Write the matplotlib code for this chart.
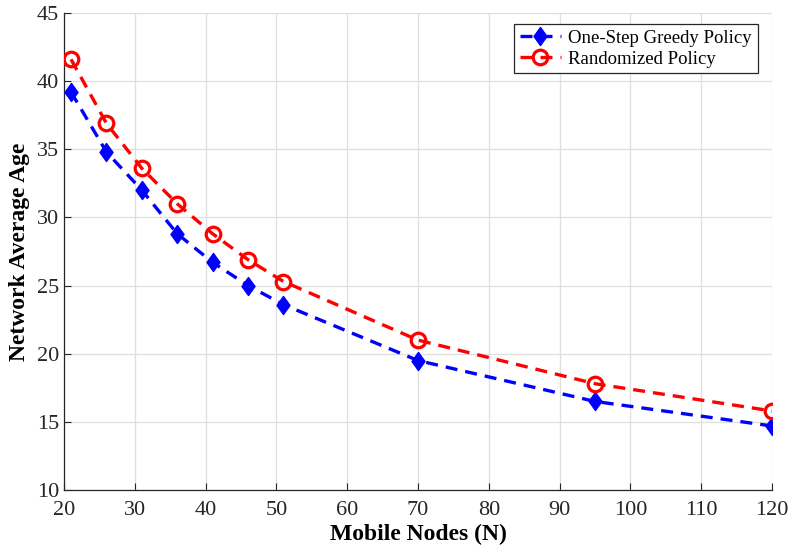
import numpy as np
import matplotlib.pyplot as plt
from matplotlib.path import Path

plt.rcParams['font.family'] = ['Liberation Serif', 'DejaVu Serif']
plt.rcParams['mathtext.fontset'] = 'stix'

# number of mobile nodes
nodes = [21, 26, 31, 36, 41, 46, 51, 70, 95, 120]

# average age per policy
greedy_age = [39.2, 34.8, 32.0, 28.8, 26.7, 25.0, 23.6, 19.5, 16.5, 14.7]
random_age = [41.6, 36.9, 33.6, 31.0, 28.8, 26.9, 25.3, 21.0, 17.8, 15.8]

xticks = np.arange(20, 121, 10)
yticks = np.arange(10, 46, 5)

# wider diamond, like the MATLAB 'd' marker
diamond = Path([(0, 1), (0.72, 0), (0, -1), (-0.72, 0), (0, 1)],
               [Path.MOVETO, Path.LINETO, Path.LINETO, Path.LINETO, Path.CLOSEPOLY])

fig = plt.figure(figsize=(7.88, 5.52), dpi=100)
ax = fig.add_axes([0.0812, 0.1123, 0.8985, 0.8641])

ax.plot(nodes, greedy_age, '--', color='blue', lw=2.4, marker=diamond,
        markersize=13, markerfacecolor='blue', markeredgecolor='blue',
        dashes=(3.6, 2.4), label='One-Step Greedy Policy', zorder=3)
ax.plot(nodes, random_age, '--', color='red', lw=2.4, marker='o',
        markersize=10.5, markerfacecolor='none', markeredgecolor='red',
        markeredgewidth=2.3, dashes=(3.6, 2.4), label='Randomized Policy', zorder=3)

ax.set_xlim(20, 120)
ax.set_ylim(10, 45)
ax.set_xticks(xticks)
ax.set_yticks(yticks)
ax.grid(True, color='#dfdfdf', lw=0.9)
ax.set_axisbelow(True)

for s in ['top', 'right']:
    ax.spines[s].set_visible(False)
for s in ['left', 'bottom']:
    ax.spines[s].set_color('#262626')
    ax.spines[s].set_linewidth(0.9)
ax.tick_params(direction='in', length=5, labelsize=16, colors='#262626',
               labelcolor='#262626')
ax.tick_params(axis='x', pad=8)

ax.set_xlabel('Mobile Nodes (N)', fontsize=17, fontweight='bold', labelpad=3)
ax.set_ylabel('Network Average Age', fontsize=17, fontweight='bold', labelpad=5)

leg = ax.legend(loc='upper right', bbox_to_anchor=(0.985, 0.985), fontsize=13.5,
                fancybox=False, framealpha=1, edgecolor='#262626',
                handlelength=2.2, borderpad=0.3, labelspacing=0.2,
                handletextpad=0.4, borderaxespad=0.2)
leg.get_frame().set_linewidth(0.9)

fig.savefig('out.png', dpi=100)
